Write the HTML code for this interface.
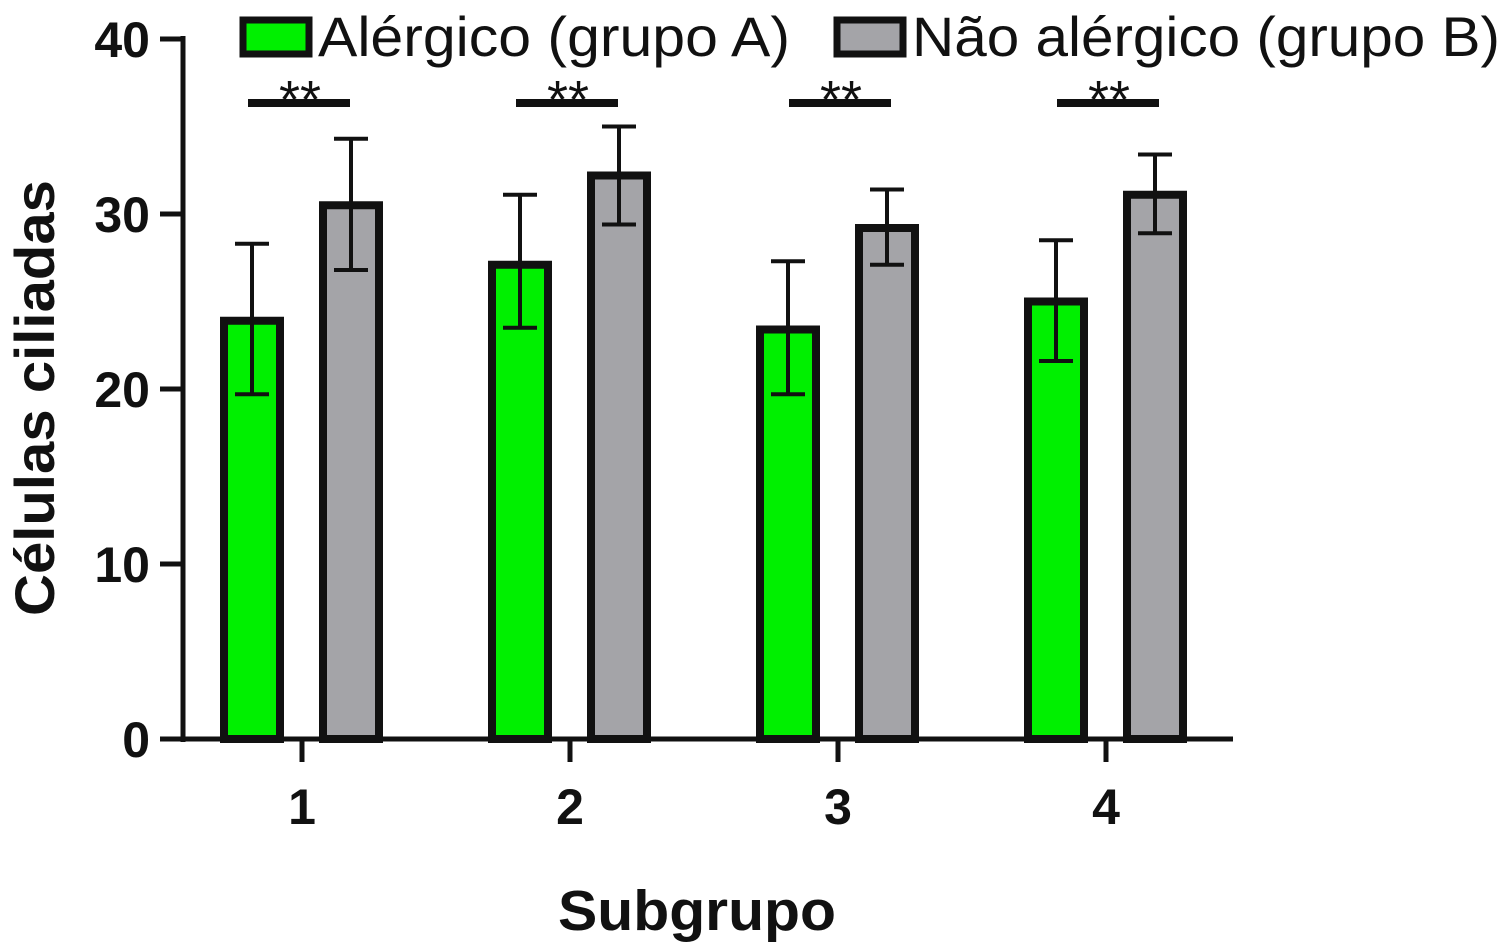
<!DOCTYPE html>
<html><head><meta charset="utf-8">
<style>
html,body{margin:0;padding:0;background:#fff;}
svg{display:block;font-family:"Liberation Sans",Arial,sans-serif;}
</style></head>
<body>
<svg id="chart" width="1508" height="948" viewBox="0 0 1508 948">
<g id="axes"></g>
<g id="bars"></g>
<g id="sig"></g>
<g id="legend">
  <rect x="243" y="20" width="66" height="34" fill="#00f000" stroke="#111" stroke-width="7"/>
  <text x="318" y="56" font-size="56" fill="#111" textLength="472" lengthAdjust="spacingAndGlyphs">Alérgico (grupo A)</text>
  <rect x="837" y="20" width="66" height="34" fill="#a4a4a8" stroke="#111" stroke-width="7"/>
  <text x="912" y="56" font-size="56" fill="#111" textLength="588" lengthAdjust="spacingAndGlyphs">Não alérgico (grupo B)</text>
</g>
<text transform="translate(54,398) rotate(-90)" text-anchor="middle" font-size="56" font-weight="bold" fill="#111" textLength="436" lengthAdjust="spacingAndGlyphs">Células ciliadas</text>
<text x="697" y="930" text-anchor="middle" font-size="57" font-weight="bold" fill="#111" textLength="278" lengthAdjust="spacingAndGlyphs">Subgrupo</text>
</svg>
<script>
const categories = ["1","2","3","4"];
const groupA = [23.9, 27.1, 23.4, 25.0];
const groupAErrHi = [28.3, 31.1, 27.3, 28.5];
const groupAErrLo = [19.7, 23.5, 19.7, 21.6];
const groupB = [30.5, 32.2, 29.2, 31.1];
const groupBErrHi = [34.3, 35.0, 31.4, 33.4];
const groupBErrLo = [26.8, 29.4, 27.1, 28.9];
const yTicks = [0, 10, 20, 30, 40];
const sigLabels = ["**","**","**","**"];

const NS = "http://www.w3.org/2000/svg";
const y = v => 739 - v * 17.5;
const x = i => 302 + i * 268;
function mk(tag, attrs, parent){
  const e = document.createElementNS(NS, tag);
  for (const k in attrs) e.setAttribute(k, attrs[k]);
  parent.appendChild(e); return e;
}
const axes = document.getElementById("axes");
let l = mk("line",{x1:183,y1:36,x2:183,y2:742,stroke:"#111","stroke-width":5},axes);


l = mk("line",{x1:181,y1:739,x2:1233,y2:739,stroke:"#111","stroke-width":5},axes);


yTicks.forEach(v=>{
  const t = mk("line",{x1:160,y1:y(v),x2:183,y2:y(v),stroke:"#111","stroke-width":5},axes);
  
  
  const tx = mk("text",{x:150,y:y(v)+18,"text-anchor":"end","font-size":50,"font-weight":"bold",fill:"#111"},axes);
  tx.textContent = v;
  
  
});
categories.forEach((c,i)=>{
  const t = mk("line",{x1:x(i),y1:739,x2:x(i),y2:762,stroke:"#111","stroke-width":5},axes);
  
  
  const tx = mk("text",{x:x(i),y:824,"text-anchor":"middle","font-size":50,"font-weight":"bold",fill:"#111"},axes);
  tx.textContent = c;
  
  
});
const bars = document.getElementById("bars");
function bar(cx, v, hi, lo, fill, name){
  const w = 56;
  const r = mk("rect",{x:cx-w/2,y:y(v),width:w,height:y(0)-y(v),fill:fill,stroke:"#111","stroke-width":8},bars);
  
  
  const e = mk("path",{d:`M${cx},${y(hi)}V${y(lo)}M${cx-17},${y(hi)}H${cx+17}M${cx-17},${y(lo)}H${cx+17}`,stroke:"#111","stroke-width":4,fill:"none"},bars);
  
  
}
categories.forEach((c,i)=>{
  bar(x(i)-50, groupA[i], groupAErrHi[i], groupAErrLo[i], "#00f000", "bar-a-" + c);
  bar(x(i)+49, groupB[i], groupBErrHi[i], groupBErrLo[i], "#a4a4a8", "bar-b-" + c);
});
const sig = document.getElementById("sig");
categories.forEach((c,i)=>{
  const cx = x(i) - 2 + (i>=2 ? 5 : 0);
  const ln = mk("line",{x1:cx-52,y1:103,x2:cx+50,y2:103,stroke:"#111","stroke-width":8},sig);
  
  
  const t = mk("text",{x:cx,y:118,"text-anchor":"middle","font-size":54,fill:"#111"},sig);
  t.textContent = sigLabels[i];
  
  
});
</script>
</body></html>
